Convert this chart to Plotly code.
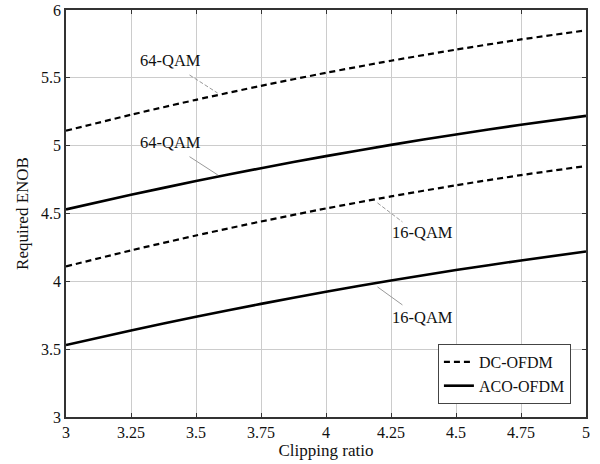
import plotly.graph_objects as go

clip_ratio = [3.0, 3.25, 3.5, 3.75, 4.0, 4.25, 4.5, 4.75, 5.0]
dc_64qam = [5.11, 5.228, 5.338, 5.441, 5.537, 5.626, 5.708, 5.783, 5.85]
dc_16qam = [4.11, 4.228, 4.338, 4.441, 4.537, 4.626, 4.708, 4.783, 4.85]
aco_64qam = [4.53, 4.638, 4.739, 4.834, 4.923, 5.006, 5.083, 5.154, 5.22]
aco_16qam = [3.53, 3.638, 3.739, 3.834, 3.923, 4.006, 4.083, 4.154, 4.22]

x_ticks = [3, 3.25, 3.5, 3.75, 4, 4.25, 4.5, 4.75, 5]
x_tick_text = ["3", "3.25", "3.5", "3.75", "4", "4.25", "4.5", "4.75", "5"]
y_ticks = [3, 3.5, 4, 4.5, 5, 5.5, 6]
y_tick_text = ["3", "3.5", "4", "4.5", "5", "5.5", "6"]

# label text (x, y) and leader line (x0, y0, x1, y1), dashed for DC-OFDM
labels = [
    ("64-QAM", 3.402, 5.627, 3.475, 5.521, 3.583, 5.388, "dash"),
    ("64-QAM", 3.402, 5.024, 3.475, 4.919, 3.584, 4.784, "solid"),
    ("16-QAM", 4.371, 4.360, 4.198, 4.578, 4.294, 4.438, "dash"),
    ("16-QAM", 4.371, 3.734, 4.198, 3.959, 4.294, 3.826, "solid"),
]

FONT = "Liberation Serif"

fig = go.Figure()
dash_line = dict(color="black", width=2.2, dash="6px,4px", shape="spline", smoothing=0.6)
solid_line = dict(color="black", width=2.6, shape="spline", smoothing=0.6)
fig.add_trace(go.Scatter(x=clip_ratio, y=dc_64qam, mode="lines", name="DC-OFDM",
                         line=dash_line, legendgroup="dc"))
fig.add_trace(go.Scatter(x=clip_ratio, y=dc_16qam, mode="lines", name="DC-OFDM", showlegend=False,
                         line=dash_line, legendgroup="dc"))
fig.add_trace(go.Scatter(x=clip_ratio, y=aco_64qam, mode="lines", name="ACO-OFDM",
                         line=solid_line, legendgroup="aco"))
fig.add_trace(go.Scatter(x=clip_ratio, y=aco_16qam, mode="lines", name="ACO-OFDM", showlegend=False,
                         line=solid_line, legendgroup="aco"))

for t, tx, ty, x0, y0, x1, y1, ds in labels:
    fig.add_annotation(x=tx, y=ty, xref="x", yref="y", text=t, showarrow=False,
                       font=dict(family=FONT, size=16.5, color="#111111"))
    fig.add_shape(type="line", x0=x0, y0=y0, x1=x1, y1=y1, xref="x", yref="y",
                  line=dict(color="#9a9a9a", width=1, dash="4px,2px" if ds == "dash" else "solid"))

axis_common = dict(showgrid=True, gridcolor="#cccccc", gridwidth=1, showline=True, linecolor="#333333",
                   linewidth=1.5, mirror="ticks", ticks="inside", ticklen=4, tickcolor="#333333",
                   zeroline=False, automargin=False,
                   tickfont=dict(family=FONT, size=16, color="#111111"))

fig.update_xaxes(range=[3, 5], tickvals=x_ticks, ticktext=x_tick_text,
                 title=dict(text="Clipping ratio", font=dict(family=FONT, size=17, color="#111111"), standoff=1),
                 **axis_common)
fig.update_yaxes(range=[3, 6], tickvals=y_ticks, ticktext=y_tick_text,
                 title=dict(text="Required ENOB", font=dict(family=FONT, size=17, color="#111111"), standoff=8),
                 **axis_common)

fig.update_layout(
    width=600, height=464,
    margin=dict(l=66, r=14, t=10, b=47),
    plot_bgcolor="white", paper_bgcolor="white",
    font=dict(family=FONT, size=16, color="#111111"),
    showlegend=True,
    legend=dict(x=0.971, y=0.032, xanchor="right", yanchor="bottom", bgcolor="white",
                bordercolor="#444444", borderwidth=1, font=dict(family=FONT, size=16, color="#111111"),
                tracegroupgap=0, itemwidth=30),
)

fig.write_html("out.html")
